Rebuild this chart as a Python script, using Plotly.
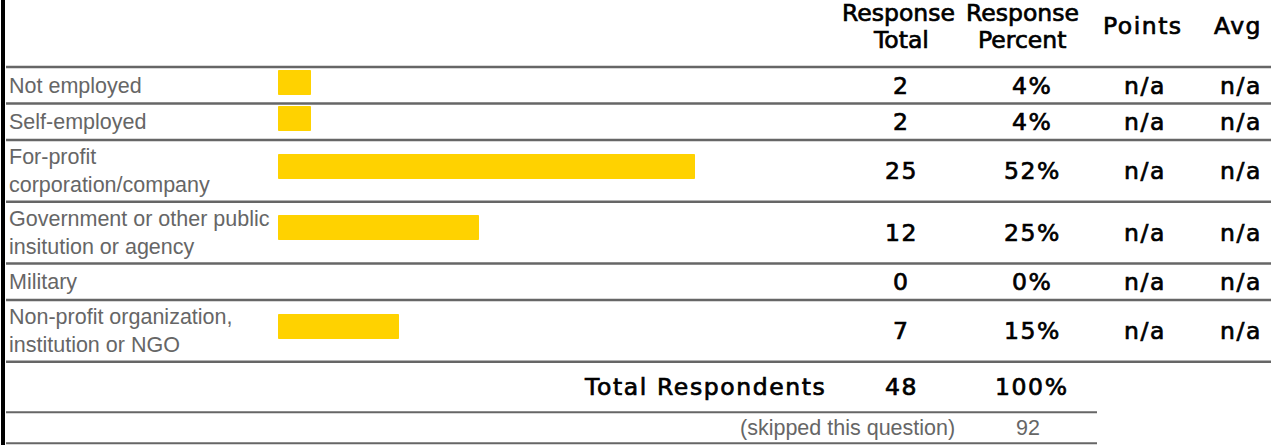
import plotly.graph_objects as go

# ---------------- data ----------------
categories = [
    "Not employed",
    "Self-employed",
    "For-profit<br>corporation/company",
    "Government or other public<br>insitution or agency",
    "Military",
    "Non-profit organization,<br>institution or NGO",
]
response_total = [2, 2, 25, 12, 0, 7]
response_percent = [4, 4, 52, 25, 0, 15]
points = ["n/a", "n/a", "n/a", "n/a", "n/a", "n/a"]
avg = ["n/a", "n/a", "n/a", "n/a", "n/a", "n/a"]
header_top = ["Response", "Response"]
header_bottom = ["Total", "Percent"]
header_single = ["Points", "Avg"]
total_label = "Total Respondents"
total_respondents = 48
total_percent = "100%"
skipped_label = "(skipped this question)"
skipped_count = 92

# ---------------- layout constants ----------------
W, H = 1271, 445
HEADER_H = 67
BAR_X0 = 278.5          # pixel where 0 % sits
PX_PER_PCT = 8.0
LINE_COLOR = "#666666"
LABEL_COLOR = "#666666"
BAR_COLOR = "#FFD200"
LABEL_FONT = dict(family="Liberation Sans, Arial", size=21.5, color=LABEL_COLOR)
NUM_FONT = dict(family="DejaVu Sans, Verdana", size=23.5, color="#000000")
HEAD_STYLE = '<span style="stroke:#000000;stroke-width:0.7px">{}</span>'
HEAD_WIDE = '<span style="stroke:#000000;stroke-width:0.7px;letter-spacing:1.5px">{}</span>'
NUM_STYLE = '<span style="stroke:#000000;stroke-width:0.7px;letter-spacing:1.6px">{}</span>'

col_total_x = 901
col_pct_x = 1032
col_pct_head_x = 1022
col_points_x = 1145
col_points_head_x = 1143
col_avg_x = 1241
col_avg_head_x = 1238

# row geometry derived from number of label lines
row_tops, row_bots = [], []
y = HEADER_H
for c in categories:
    n = c.count("<br>") + 1
    h = 36.5 if n == 1 else 61.75
    row_tops.append(y)
    y += h
    row_bots.append(y)
total_top = y
total_bot = total_top + 50.5
skip_bot = total_bot + 32

bar_centers = []
bar_lw = []
for c, t, v in zip(categories, row_tops, response_percent):
    n = c.count("<br>") + 1
    off = 3 if n == 1 else 14
    bar_centers.append(t + off + 12.5)
    bar_lw.append(1 if v > 0 else 0)

fig = go.Figure()
fig.add_trace(go.Bar(
    orientation="h",
    x=response_percent,
    y=bar_centers,
    width=24,
    marker=dict(color=BAR_COLOR, line=dict(color=BAR_COLOR, width=bar_lw)),
    hoverinfo="skip",
    showlegend=False,
))

ann = []


def px(x):
    return x / W


def add_text(text, x, yv, font, xanchor="center"):
    ann.append(dict(text=text, x=px(x), y=yv, xref="paper", yref="y",
                    xanchor=xanchor, yanchor="middle", showarrow=False,
                    font=font, align="left" if xanchor == "left" else "center",
                    borderpad=0))


# header
add_text(HEAD_STYLE.format(header_top[0]), col_total_x - 3, 13, NUM_FONT)
add_text(HEAD_STYLE.format(header_bottom[0]), col_total_x, 40, NUM_FONT)
add_text(HEAD_STYLE.format(header_top[1]), col_pct_head_x, 13, NUM_FONT)
add_text(HEAD_STYLE.format(header_bottom[1]), col_pct_head_x, 40, NUM_FONT)
add_text(HEAD_WIDE.format(header_single[0]), col_points_head_x, 26, NUM_FONT)
add_text(HEAD_WIDE.format(header_single[1]), col_avg_head_x, 26, NUM_FONT)

# rows
for c, t, b, rt, rp, pt, av in zip(categories, row_tops, row_bots, response_total,
                                    response_percent, points, avg):
    mid = (t + b) / 2 + 0.5
    add_text(c, 8, mid, LABEL_FONT, xanchor="left")
    add_text(NUM_STYLE.format(rt), col_total_x, mid, NUM_FONT)
    add_text(NUM_STYLE.format(f"{rp}%"), col_pct_x, mid, NUM_FONT)
    add_text(NUM_STYLE.format(pt), col_points_x, mid, NUM_FONT)
    add_text(NUM_STYLE.format(av), col_avg_x, mid, NUM_FONT)

# totals
tmid = (total_top + total_bot) / 2
add_text(NUM_STYLE.format(total_label), 827, tmid, NUM_FONT, xanchor="right")
add_text(NUM_STYLE.format(total_respondents), col_total_x, tmid, NUM_FONT)
add_text(NUM_STYLE.format(total_percent), col_pct_x, tmid, NUM_FONT)
smid = (total_bot + skip_bot) / 2
add_text(skipped_label, 956, smid, LABEL_FONT, xanchor="right")
add_text(str(skipped_count), 1028, smid, LABEL_FONT)

shapes = []
# left black border
shapes.append(dict(type="rect", xref="paper", yref="y", x0=px(1), x1=px(5),
                   y0=0, y1=H, fillcolor="#000000", line=dict(width=0)))
# row separator lines
for yy in [HEADER_H] + row_bots:
    shapes.append(dict(type="line", xref="paper", yref="y", x0=px(6), x1=1,
                       y0=yy, y1=yy, line=dict(color=LINE_COLOR, width=2.7)))
for yy in [total_bot, skip_bot - 1]:
    shapes.append(dict(type="line", xref="paper", yref="y", x0=px(6), x1=px(1097),
                       y0=yy, y1=yy, line=dict(color=LINE_COLOR, width=2)))

fig.update_layout(
    width=W, height=H,
    margin=dict(l=0, r=0, t=0, b=0),
    paper_bgcolor="#ffffff", plot_bgcolor="#ffffff",
    xaxis=dict(range=[-BAR_X0 / PX_PER_PCT, (W - BAR_X0) / PX_PER_PCT],
               visible=False, fixedrange=True),
    yaxis=dict(range=[H, 0], visible=False, fixedrange=True),
    annotations=ann,
    shapes=shapes,
    bargap=0,
)

fig.write_html("out.html", config={"displayModeBar": False})
